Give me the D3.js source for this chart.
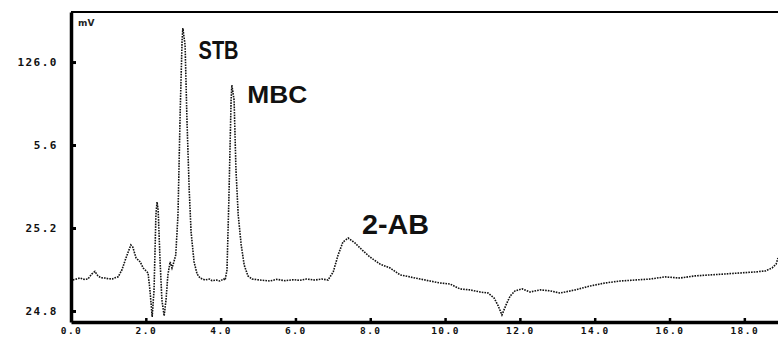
<!DOCTYPE html>
<html>
<head>
<meta charset="utf-8">
<script src="https://cdn.jsdelivr.net/npm/d3@7"></script>
<style>
  html, body { margin: 0; padding: 0; background: #fff; }
  svg { display: block; }
</style>
</head>
<body>
<svg id="chart" width="778" height="339"></svg>
<script>
// Retention time (min)
const times = [
  0.05, 0.24, 0.35, 0.45, 0.56, 0.64, 0.72, 0.80, 0.91, 1.00,
  1.10, 1.18, 1.26, 1.36, 1.47, 1.55, 1.60, 1.65, 1.74, 1.85,
  1.93, 2.06, 2.11, 2.17, 2.22, 2.27, 2.30, 2.33, 2.38, 2.43,
  2.49, 2.54, 2.59, 2.65, 2.70, 2.75, 2.80, 2.86, 2.92, 2.97,
  2.99, 3.05, 3.10, 3.16, 3.21, 3.29, 3.37, 3.45, 3.58, 3.70,
  3.77, 3.88, 3.98, 4.08, 4.12, 4.17, 4.22, 4.28, 4.30, 4.36,
  4.41, 4.47, 4.55, 4.63, 4.73, 4.84, 5.05, 5.32, 5.50, 5.72,
  5.95, 6.12, 6.30, 6.52, 6.70, 6.87, 7.01, 7.14, 7.27, 7.41,
  7.59, 7.78, 7.99, 8.26, 8.53, 8.80, 9.06, 9.33, 9.60, 9.87,
  10.13, 10.40, 10.67, 10.94, 11.15, 11.31, 11.42, 11.52, 11.63, 11.74,
  11.87, 12.06, 12.27, 12.54, 12.81, 13.07, 13.48, 13.88, 14.28, 14.68,
  15.08, 15.48, 15.88, 16.28, 16.68, 17.09, 17.49, 17.89, 18.29, 18.56,
  18.74, 18.85, 18.90
];
// Detector signal (mV)
const signal = [
  -6.4, -5.2, -6.0, -5.8, -2.7, -1.2, -3.9, -5.0, -5.2, -5.6,
  -5.8, -5.0, -4.5, -0.3, 7.0, 11.9, 14.9, 13.7, 7.0, 4.6,
  0.9, -2.1, -12.4, -28.8, -12.4, 33.1, 41.0, 36.1, 5.8, -18.5,
  -28.2, -18.5, -3.3, 4.6, 0.9, 4.6, 8.8, 33.1, 96.9, 139.4,
  146.6, 136.3, 90.8, 48.3, 22.8, 4.6, -2.7, -5.2, -6.4, -5.8,
  -6.8, -6.4, -7.0, -5.8, -6.4, -0.3, 42.2, 102.9, 112.0, 102.9,
  60.4, 33.1, 14.9, 2.7, -3.9, -5.8, -6.4, -7.0, -6.0, -6.8,
  -6.2, -6.6, -5.8, -6.4, -5.8, -6.4, -1.5, 8.8, 16.7, 19.1,
  16.1, 11.9, 7.6, 3.3, 0.9, -3.3, -4.5, -5.8, -7.0, -8.2,
  -8.8, -11.8, -12.4, -13.7, -14.3, -17.3, -22.1, -27.6, -21.5, -16.1,
  -13.0, -11.8, -13.7, -12.4, -13.0, -14.3, -12.4, -10.0, -8.2, -7.0,
  -6.4, -5.8, -4.5, -5.2, -3.9, -3.3, -2.7, -2.1, -1.5, -0.9,
  0.9, 3.3, 7.0
];

const xTickValues = [0, 2, 4, 6, 8, 10, 12, 14, 16, 18];
const xTickLabels = ["0.0", "2.0", "4.0", "6.0", "8.0", "10.0", "12.0", "14.0", "16.0", "18.0"];
const yTickValues = [126.0, 75.6, 25.2, -25.2];
const yTickLabels = ["126.0", "5.6", "25.2", "24.8"];

const peakNames = ["STB", "MBC", "2-AB"];
const peakTimes = [3.41, 4.71, 7.78];
const peakLabelValues = [128.0, 101.0, 21.5];

const svg = d3.select("#chart");
const W = 778, H = 339;
const m = { left: 71, top: 12, right: 0, bottom: 17 };

const x = d3.scaleLinear().domain([0, 18.9]).range([m.left, W - m.right]);
const y = d3.scaleLinear().domain([-31.9, 156.4]).range([H - m.bottom, m.top]);

// top border
svg.append("line")
  .attr("x1", m.left).attr("x2", W)
  .attr("y1", m.top).attr("y2", m.top)
  .attr("stroke", "#000").attr("stroke-width", 2);

// trace
const pts = times.map((t, i) => [t, signal[i]]);
svg.append("path")
  .datum(pts)
  .attr("fill", "none")
  .attr("stroke", "#111")
  .attr("stroke-width", 1.6)
  .attr("stroke-dasharray", "1.6,1.1")
  .attr("d", d3.line().x(d => x(d[0])).y(d => y(d[1])));

// x axis
const xAxis = d3.axisBottom(x)
  .tickValues(xTickValues)
  .tickFormat((d, i) => xTickLabels[i])
  .tickSizeInner(-4).tickSizeOuter(0).tickPadding(5);
const gx = svg.append("g").attr("transform", `translate(0,${H - m.bottom})`).call(xAxis);
gx.select(".domain").attr("stroke-width", 3.5);
gx.selectAll(".tick line").attr("stroke-width", 2.5);
gx.selectAll(".tick text")
  .attr("font-family", "DejaVu Sans Mono, monospace")
  .attr("font-weight", "bold")
  .attr("font-size", 9.5)
  .attr("letter-spacing", 1.5)
  .attr("fill", "#111");

// y axis
const yAxis = d3.axisLeft(y)
  .tickValues(yTickValues)
  .tickFormat((d, i) => yTickLabels[i])
  .tickSizeInner(-5).tickSizeOuter(0).tickPadding(13);
const gy = svg.append("g").attr("transform", `translate(${m.left},0)`).call(yAxis);
gy.select(".domain").attr("stroke-width", 3.5);
gy.selectAll(".tick line").attr("stroke-width", 3);
gy.selectAll(".tick text")
  .attr("font-family", "DejaVu Sans Mono, monospace")
  .attr("font-weight", "bold")
  .attr("font-size", 11)
  .attr("letter-spacing", 1.5)
  .attr("fill", "#111");

// unit label
svg.append("text")
  .attr("x", m.left + 7).attr("y", m.top + 14)
  .attr("font-family", "DejaVu Sans, sans-serif")
  .attr("font-size", 9).attr("font-weight", "bold")
  .attr("fill", "#222")
  .text("mV");

// peak labels
const peakSizes = [26, 24, 27];
const peakWidths = [40, 60, 67];
peakNames.forEach((name, i) => {
  svg.append("text")
    .attr("x", x(peakTimes[i]))
    .attr("y", y(peakLabelValues[i]))
    .attr("font-family", "Liberation Sans, Arial, sans-serif")
    .attr("font-weight", "bold")
    .attr("font-size", peakSizes[i])
    .attr("textLength", peakWidths[i])
    .attr("lengthAdjust", "spacingAndGlyphs")
    .attr("fill", "#111")
    .text(name);
});
</script>
</body>
</html>
